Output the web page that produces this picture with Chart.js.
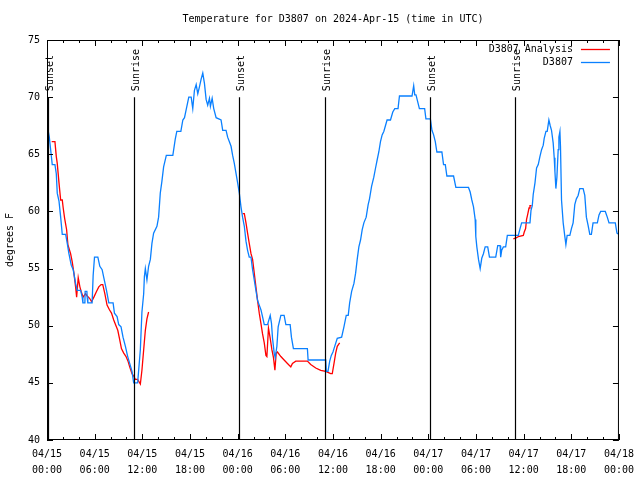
<!DOCTYPE html>
<html>
<head>
<meta charset="utf-8">
<title>Temperature for D3807</title>
<script src="https://cdn.jsdelivr.net/npm/chart.js@4.4.1/dist/chart.umd.min.js"></script>
<style>
  html, body { margin: 0; padding: 0; background: #fff; }
  #wrap { width: 640px; height: 480px; position: relative; }
</style>
</head>
<body>
<div id="wrap"><canvas id="chart"></canvas></div>
<script>
const FONT = "'DejaVu Sans Mono', 'Liberation Mono', monospace";
const chartTitle = "Temperature for D3807 on 2024-Apr-15 (time in UTC)";

// hours since 04/15 00:00 UTC
const blueHours = [
  0.16, 0.29, 0.46, 0.66, 1.00, 1.17, 1.29, 1.51, 1.72, 1.92,
  2.35, 2.55, 2.76, 3.05, 3.30, 3.60, 3.80, 4.23, 4.43, 4.52,
  4.77, 4.80, 5.02, 5.06, 5.14, 5.68, 5.81, 5.98, 6.40, 6.65,
  6.94, 7.15, 7.49, 7.78, 8.32, 8.49, 8.82, 9.03, 9.32, 9.57,
  9.87, 10.16, 10.41, 10.70, 10.91, 11.41, 11.54, 11.75, 11.95, 12.17,
  12.26, 12.38, 12.58, 12.79, 13.01, 13.21, 13.42, 13.84, 14.05, 14.26,
  14.46, 14.68, 15.02, 15.84, 16.14, 16.34, 16.85, 17.10, 17.31, 17.52,
  17.85, 18.15, 18.35, 18.56, 18.78, 18.98, 19.19, 19.41, 19.61, 19.82,
  20.03, 20.23, 20.45, 20.57, 20.79, 20.99, 21.29, 21.91, 22.12, 22.54,
  22.74, 22.96, 23.17, 23.37, 23.58, 23.80, 24.00, 24.21, 24.42, 24.62,
  24.84, 25.05, 25.25, 25.46, 25.68, 25.88, 26.09, 26.30, 26.51, 26.72,
  26.93, 27.13, 27.35, 27.76, 27.97, 28.10, 28.26, 28.39, 28.60, 28.73,
  28.94, 29.10, 29.44, 29.85, 30.07, 30.61, 30.77, 31.02, 32.78, 32.87,
  35.09, 35.16, 35.37, 35.59, 35.79, 36.00, 36.13, 36.54, 37.09, 37.38,
  37.67, 37.92, 38.10, 38.35, 38.64, 38.85, 39.05, 39.26, 39.47, 39.68,
  39.89, 40.18, 40.43, 40.60, 40.86, 41.14, 41.36, 41.56, 41.77, 41.98,
  42.19, 42.40, 42.81, 43.24, 43.53, 43.78, 44.19, 44.37, 45.95, 46.16,
  46.29, 46.45, 46.70, 46.88, 47.54, 47.70, 48.26, 48.46, 48.67, 48.88,
  49.08, 49.71, 49.92, 50.14, 50.34, 51.18, 51.47, 53.06, 53.27, 53.48,
  53.69, 53.90, 53.98, 54.11, 54.32, 54.53, 54.73, 54.94, 55.16, 55.48,
  55.70, 56.49, 56.74, 57.04, 57.11, 57.24, 57.45, 57.74, 57.95, 59.33,
  59.55, 59.75, 60.80, 60.93, 61.09, 61.21, 61.43, 61.63, 61.84, 62.05,
  62.26, 62.47, 62.59, 62.81, 62.97, 63.18, 63.35, 63.51, 63.72, 63.85,
  63.94, 64.06, 64.19, 64.35, 64.44, 64.57, 64.64, 64.77, 64.98, 65.19,
  65.32, 65.48, 65.82, 66.02, 66.23, 66.44, 66.64, 66.86, 67.07, 67.49,
  67.70, 67.90, 68.11, 68.33, 68.53, 68.74, 69.28, 69.49, 69.70, 70.28,
  70.53, 70.75, 71.54, 71.75, 71.96
];
const blueTemps = [
  67.0, 66.5, 65.4, 64.1, 64.1, 63.3, 61.6, 60.9, 59.5, 58.0,
  58.0, 57.2, 56.3, 55.3, 54.9, 53.7, 53.1, 53.1, 52.5, 52.0,
  52.0, 53.0, 53.0, 52.5, 52.0, 52.0, 54.4, 56.0, 56.0, 55.2,
  54.9, 54.2, 53.1, 52.0, 52.0, 51.1, 50.8, 50.1, 49.9, 49.0,
  48.2, 47.3, 46.7, 46.0, 45.0, 45.0, 46.1, 47.9, 51.2, 52.8,
  54.3, 55.0, 54.0, 55.2, 55.8, 57.2, 58.1, 58.7, 59.5, 61.6,
  62.6, 63.9, 64.9, 64.9, 66.3, 67.0, 67.0, 68.0, 68.2, 68.9,
  70.0, 70.0, 69.0, 70.6, 71.1, 70.3, 70.9, 71.6, 72.1, 71.2,
  69.8, 69.3, 69.9, 69.2, 69.9, 69.0, 68.2, 68.0, 67.1, 67.1,
  66.5, 66.1, 65.7, 64.9, 64.2, 63.3, 62.5, 61.6, 60.4, 59.5,
  58.7, 57.4, 56.6, 56.0, 56.0, 54.9, 54.0, 53.1, 52.2, 51.8,
  51.4, 50.8, 50.1, 50.1, 50.6, 50.9, 50.2, 48.9, 47.6, 47.2,
  48.2, 49.9, 50.9, 50.9, 50.1, 50.1, 49.0, 48.0, 48.0, 47.0,
  47.0, 46.0, 46.0, 46.9, 47.4, 47.7, 48.0, 48.9, 49.0, 49.9,
  50.9, 50.9, 52.0, 53.0, 53.7, 54.6, 55.8, 56.9, 57.5, 58.4,
  59.0, 59.5, 60.6, 61.1, 62.2, 63.0, 63.8, 64.5, 65.2, 66.1,
  66.7, 67.0, 68.0, 68.0, 68.7, 69.0, 69.0, 70.1, 70.1, 71.0,
  70.2, 70.2, 69.5, 69.0, 69.0, 68.1, 68.1, 67.1, 66.7, 66.1,
  65.2, 65.2, 64.1, 64.1, 63.1, 63.1, 62.1, 62.1, 61.7, 61.0,
  60.4, 59.3, 57.8, 56.9, 55.8, 55.0, 55.9, 56.3, 56.9, 56.9,
  56.0, 56.0, 57.0, 57.0, 56.0, 56.6, 56.9, 56.9, 57.9, 57.9,
  58.5, 59.0, 59.0, 60.1, 60.5, 61.5, 62.5, 63.8, 64.1, 64.8,
  65.4, 65.8, 66.4, 67.0, 67.0, 68.0, 67.5, 67.1, 66.0, 64.7,
  63.5, 62.0, 63.0, 65.4, 66.5, 67.0, 65.7, 61.0, 59.0, 57.8,
  57.1, 57.9, 57.9, 58.5, 59.0, 60.6, 61.1, 61.4, 62.0, 62.0,
  61.4, 59.5, 58.8, 58.0, 58.0, 59.0, 59.0, 59.7, 60.0, 60.0,
  59.5, 59.0, 59.0, 58.1, 58.0
];

// analysis runs only overnight; null breaks the line
const analysisHours = [
  0.59, 1.00, 1.17, 1.29, 1.51, 1.72, 1.92, 2.04, 2.22, 2.47,
  2.63, 2.97, 3.17, 3.39, 3.60, 3.73, 3.93, 4.14, 4.30, 4.55,
  4.85, 5.06, 5.36, 5.61, 5.90, 6.23, 6.52, 6.81, 7.02, 7.28,
  7.56, 7.86, 8.12, 8.40, 8.62, 8.91, 9.12, 9.37, 9.66, 9.95,
  10.20, 10.41, 10.70, 10.91, 11.13, 11.41, 11.75, 11.95, 12.17, 12.38,
  12.58, 12.79,
  13.0,
  24.62, 24.84, 25.05, 25.25, 25.46, 25.68, 25.88, 26.09, 26.30, 26.51,
  26.72, 26.93, 27.13, 27.35, 27.56, 27.68, 27.88, 28.10, 28.31, 28.51,
  28.69, 28.85, 29.01, 29.44, 29.85, 30.27, 30.69, 30.90, 31.32, 31.95,
  32.78, 33.20, 33.83, 34.46, 35.09, 35.71, 35.91, 36.13, 36.34, 36.54,
  36.84,
  37.0,
  58.71, 59.12, 59.33, 59.96, 60.08, 60.25, 60.37, 60.50, 60.68, 60.80,
  61.00
];
const analysisTemps = [
  66.1, 66.1, 64.8, 64.2, 62.5, 61.0, 61.0, 60.3, 59.4, 58.4,
  57.1, 56.3, 55.6, 54.6, 53.4, 52.5, 54.2, 53.4, 53.0, 52.5,
  52.8, 52.6, 52.4, 52.1, 52.5, 53.0, 53.4, 53.6, 53.6, 52.8,
  51.8, 51.4, 51.1, 50.5, 50.1, 49.6, 48.9, 48.0, 47.6, 47.3,
  46.9, 46.4, 45.8, 45.6, 45.3, 45.3, 44.9, 46.1, 47.9, 49.6,
  50.6, 51.2,
  null,
  59.8, 59.8, 59.0, 58.1, 57.2, 56.3, 55.8, 54.6, 53.4, 52.2,
  51.1, 50.2, 49.3, 48.5, 47.4, 47.3, 49.8, 48.9, 47.9, 47.2,
  46.1, 47.6, 47.7, 47.3, 47.0, 46.7, 46.4, 46.7, 46.9, 46.9,
  46.9, 46.6, 46.3, 46.1, 46.0, 45.8, 45.8, 46.7, 47.6, 48.2,
  48.5,
  null,
  57.6, 57.7, 57.8, 57.9, 58.2, 58.5, 59.3, 59.7, 60.3, 60.5,
  60.5
];

const sunHours = [0.16, 10.93, 24.2, 34.95, 48.2, 58.9];
const sunLabels = ["Sunset", "Sunrise", "Sunset", "Sunrise", "Sunset", "Sunrise"];
const sunLineTop = 70;

const xTickLabels = [
  ["04/15", "00:00"], ["04/15", "06:00"], ["04/15", "12:00"], ["04/15", "18:00"],
  ["04/16", "00:00"], ["04/16", "06:00"], ["04/16", "12:00"], ["04/16", "18:00"],
  ["04/17", "00:00"], ["04/17", "06:00"], ["04/17", "12:00"], ["04/17", "18:00"],
  ["04/18", "00:00"]
];

const gnuplotLook = {
  id: "gnuplotLook",
  afterDatasetsDraw(chart) {
    const { ctx, chartArea: area, scales: { x, y } } = chart;
    ctx.save();
    ctx.font = "10px " + FONT;
    ctx.fillStyle = "#000";
    ctx.strokeStyle = "#000";

    // sunrise / sunset markers
    const top = y.getPixelForValue(sunLineTop);
    ctx.lineWidth = 1.2;
    sunHours.forEach((h, i) => {
      const px = Math.round(x.getPixelForValue(h)) + 0.5;
      ctx.beginPath();
      ctx.moveTo(px, top);
      ctx.lineTo(px, area.bottom);
      ctx.stroke();
      ctx.save();
      ctx.translate(px + 1.5, top - 6);
      ctx.rotate(-Math.PI / 2);
      ctx.textAlign = "left";
      ctx.textBaseline = "middle";
      ctx.fillText(sunLabels[i], 0, 0);
      ctx.restore();
    });

    // border + inward tics on all sides
    ctx.lineWidth = 1;
    ctx.strokeRect(area.left + 0.5, area.top + 0.5, area.right - area.left - 1, area.bottom - area.top - 1);
    ctx.beginPath();
    for (let h = x.min; h <= x.max; h += 2) {
      const len = h % 6 === 0 ? 6 : 3;
      const px = Math.round(x.getPixelForValue(h)) + 0.5;
      ctx.moveTo(px, area.bottom);
      ctx.lineTo(px, area.bottom - len);
      ctx.moveTo(px, area.top);
      ctx.lineTo(px, area.top + len);
    }
    y.ticks.forEach(t => {
      const py = Math.round(y.getPixelForValue(t.value)) + 0.5;
      ctx.moveTo(area.left, py);
      ctx.lineTo(area.left + 6, py);
      ctx.moveTo(area.right, py);
      ctx.lineTo(area.right - 6, py);
    });
    ctx.stroke();

    // key, top right inside the plot
    ctx.textAlign = "right";
    ctx.textBaseline = "middle";
    chart.data.datasets.forEach((ds, i) => {
      const ly = area.top + 9 + i * 13;
      ctx.fillStyle = "#000";
      ctx.fillText(ds.label, area.right - 46, ly);
      ctx.strokeStyle = ds.borderColor;
      ctx.lineWidth = 1.3;
      ctx.beginPath();
      ctx.moveTo(area.right - 38, Math.round(ly) + 0.5);
      ctx.lineTo(area.right - 9, Math.round(ly) + 0.5);
      ctx.stroke();
    });

    // title
    ctx.fillStyle = "#000";
    ctx.textAlign = "center";
    ctx.fillText(chartTitle, (area.left + area.right) / 2, 19);
    ctx.restore();
  }
};

new Chart(document.getElementById("chart"), {
  type: "line",
  data: {
    datasets: [
      {
        label: "D3807 Analysis",
        data: analysisHours.map((h, i) => ({ x: h, y: analysisTemps[i] })),
        borderColor: "#ff0000",
        borderWidth: 1.3,
        pointRadius: 0,
        tension: 0,
        spanGaps: false,
        order: 1
      },
      {
        label: "D3807",
        data: blueHours.map((h, i) => ({ x: h, y: blueTemps[i] })),
        borderColor: "#0a80ff",
        borderWidth: 1.3,
        pointRadius: 0,
        tension: 0,
        order: 0
      }
    ]
  },
  options: {
    responsive: true,
    maintainAspectRatio: false,
    animation: false,
    layout: { padding: { top: 40, right: 19, left: 0, bottom: 0 } },
    plugins: {
      legend: { display: false },
      title: { display: false },
      tooltip: { enabled: false }
    },
    scales: {
      x: {
        type: "linear",
        min: 0,
        max: 72,
        offset: false,
        grid: { display: false, drawTicks: false },
        border: { display: false },
        ticks: {
          stepSize: 6,
          autoSkip: false,
          maxRotation: 0,
          padding: 6,
          color: "#000",
          font: { family: FONT, size: 10, lineHeight: 1.6 },
          callback: v => xTickLabels[Math.round(v / 6)]
        },
        afterFit(scale) { scale.height = 40; }
      },
      y: {
        min: 40,
        max: 75,
        grid: { display: false, drawTicks: false },
        border: { display: false },
        ticks: {
          stepSize: 5,
          padding: 7,
          color: "#000",
          font: { family: FONT, size: 10 }
        },
        title: {
          display: true,
          text: "degrees F",
          color: "#000",
          font: { family: FONT, size: 10 },
          padding: { top: 4, bottom: 0 }
        },
        afterFit(scale) { scale.width = 47; }
      }
    }
  },
  plugins: [gnuplotLook]
});
</script>
</body>
</html>
